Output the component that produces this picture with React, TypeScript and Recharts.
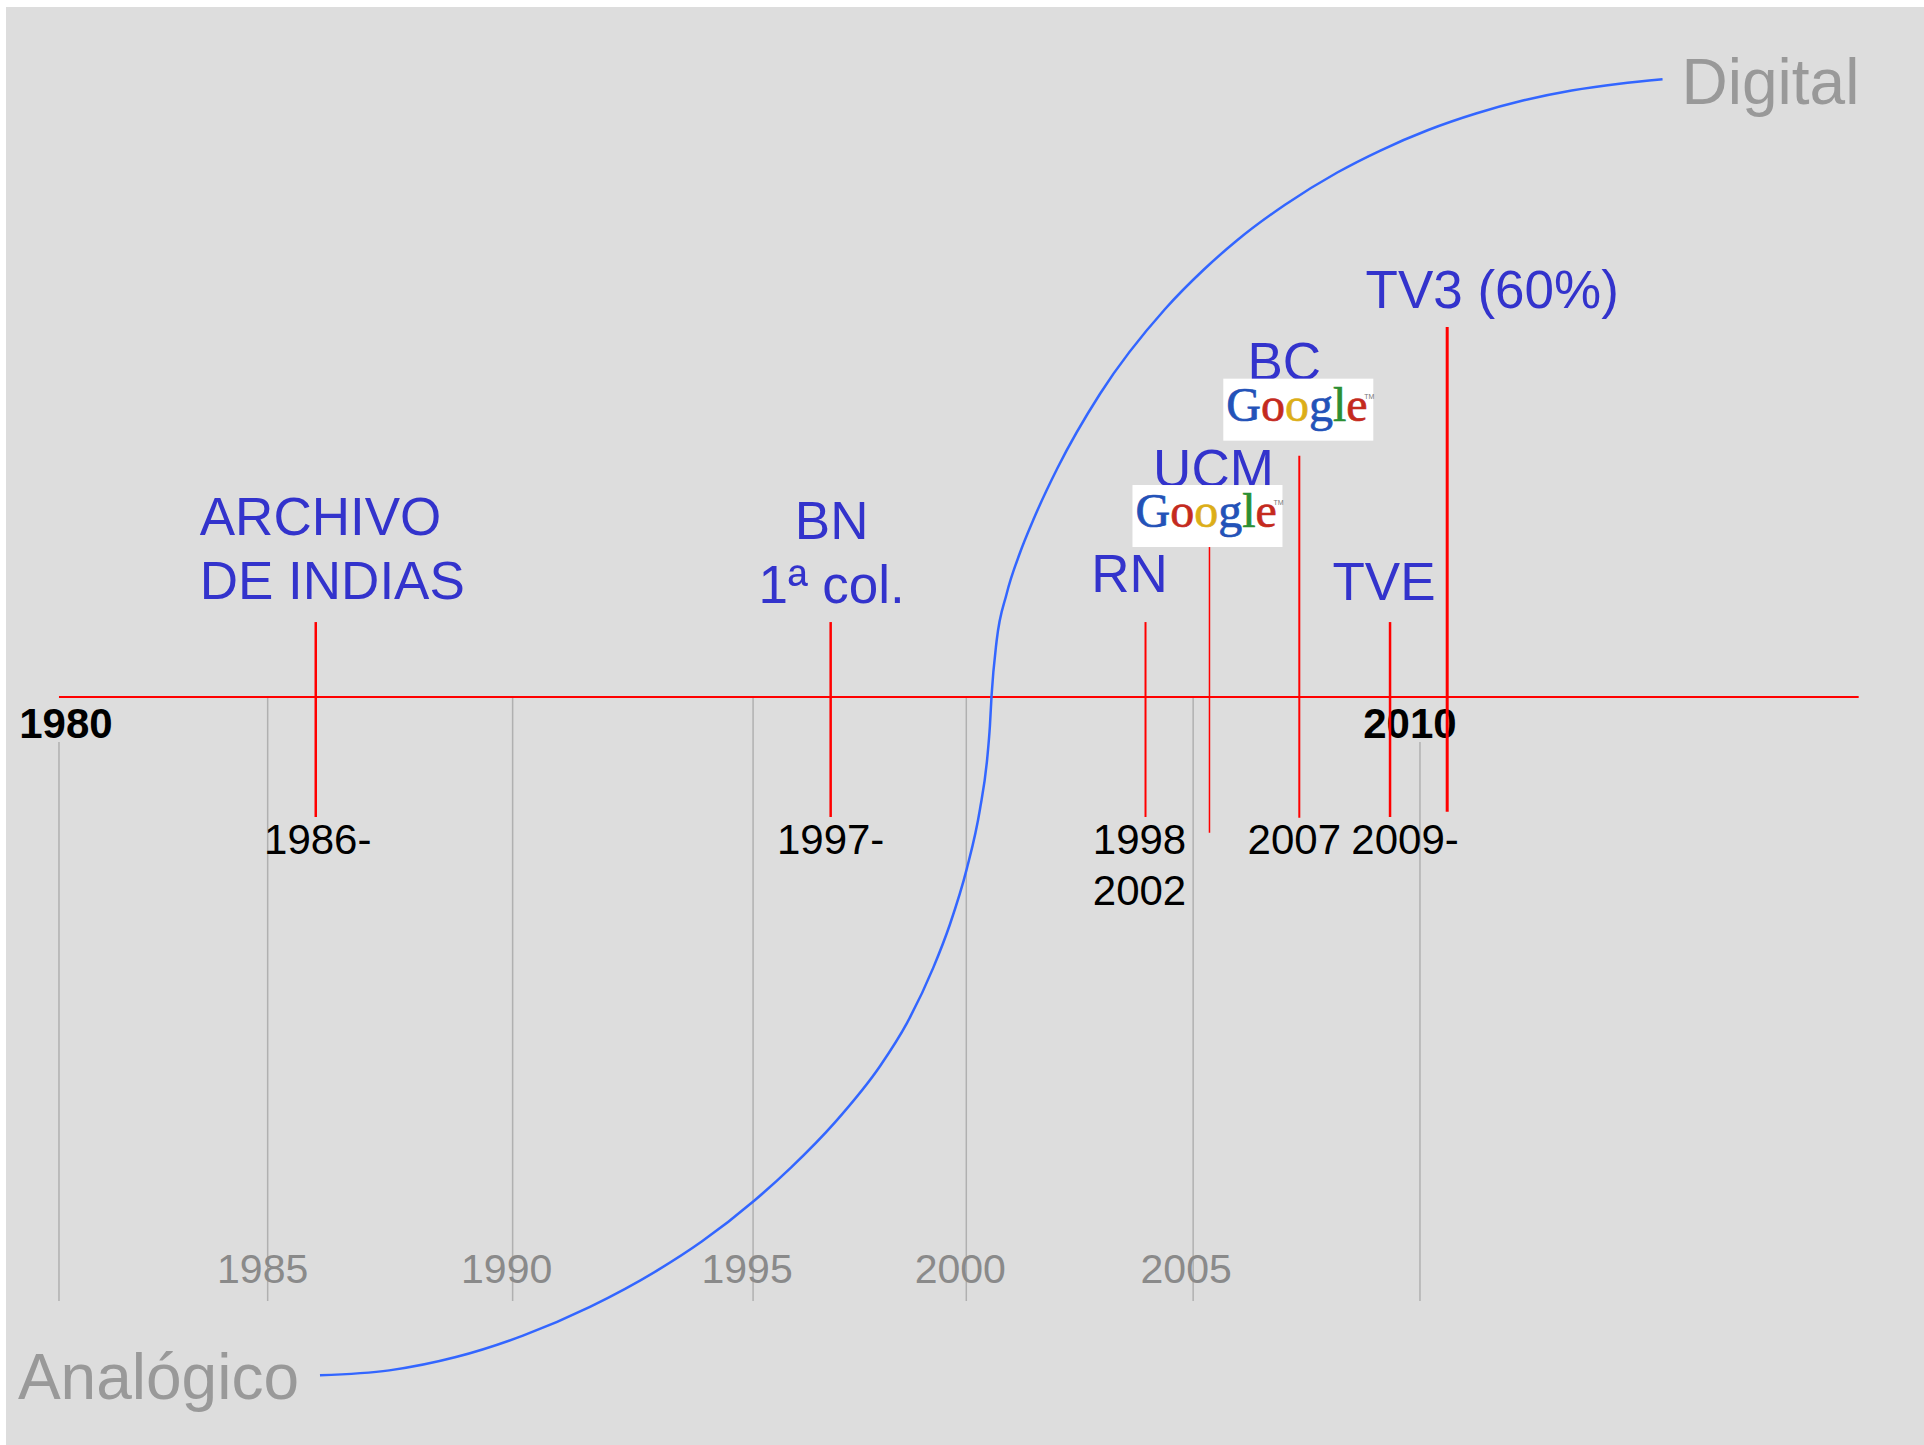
import React from "react";
import { ComposedChart, Line, XAxis, YAxis, ReferenceLine, ReferenceDot } from "recharts";

// S-curve: digitisation level (0 = analógico, 100 = digital) against year
const curveYears = [
  1985.753, 1987.28, 1988.75, 1990.227, 1991.704, 1993.181, 1994.168, 1995.33, 1996.134, 1997.119,
  1998.104, 1998.691, 1999.27, 1999.638, 2000.007, 2000.3, 2000.461, 2000.52, 2000.557, 2000.668,
  2000.888, 2001.181, 2001.475, 2002.01, 2002.945, 2004.382, 2005.226, 2005.964, 2007.018, 2008.177,
  2009.127, 2010.181, 2011.234, 2012.29, 2013.344, 2014.397, 2015.347,
];
const curveLevels = [
  0, 0.378, 1.404, 3.056, 5.278, 8.071, 10.316, 13.488, 16.026, 19.576,
  23.889, 27.176, 31.435, 34.784, 39.035, 43.657, 47.6, 50.1, 52.461, 56.659,
  60.285, 63.449, 65.995, 70.008, 75.718, 82.276, 85.285, 87.562, 90.301, 92.809,
  94.506, 96.088, 97.361, 98.38, 99.136, 99.66, 100,
];

// vertical year guides
const gridYears = [1980, 1984.6, 1990, 1995.3, 2000, 2005, 2010];
const gridLabels = ["1980", "1985", "1990", "1995", "2000", "2005", "2010"];
const gridBold = [true, false, false, false, false, false, true];

// milestones
const eventNames = ["ARCHIVO\nDE INDIAS", "BN\n1ª col.", "RN", "UCM", "BC", "TVE", "TV3 (60%)"];
const eventYears = [1985.66, 1997.01, 2003.95, 2005.36, 2007.34, 2009.34, 2010.6];
const eventTops = [58.12, 58.12, 58.12, 63.91, 70.96, 58.12, 80.89];
const eventBottoms = [43.08, 43.08, 43.08, 41.87, 43.02, 43.08, 43.49];
const eventDates = ["1986-", "1997-", "1998\n2002", "", "2007", "2009-", ""];
const eventGoogle = [false, false, false, true, true, false, false];

const AXIS_LEVEL = 52.34;
const AXIS_START = 1980;
const AXIS_END = 2019.67;
const GRID_BOTTOM = 5.73;
const GRID_MAJOR_TOP = 48.87;

const SANS = "'Liberation Sans', Arial, Helvetica, sans-serif";
const SERIF = "'Liberation Serif', 'Times New Roman', serif";
const BLUE = "#3333cc";

const curveData = curveYears.map((year, i) => ({ year, level: curveLevels[i] }));

// label placement relative to each milestone line (x, top, bottom)
const titleLayout = [
  { anchor: "start", dx: -116, dy: -87 },
  { anchor: "middle", dx: 1, dy: -83 },
  { anchor: "middle", dx: -16, dy: -30 },
  { anchor: "middle", dx: 4, dy: -60 },
  { anchor: "middle", dx: -15, dy: -76 },
  { anchor: "middle", dx: -6, dy: -22 },
  { anchor: "middle", dx: 45, dy: -19 },
];
const dateLayout = [
  { dx: 2, dy: 37 },
  { dx: 0, dy: 37 },
  { dx: -6, dy: 37 },
  { dx: 0, dy: 37 },
  { dx: -5, dy: 36 },
  { dx: 15, dy: 37 },
  { dx: 0, dy: 37 },
];
const logoLayout = [null, null, null, { dx: -77, dy: -62 }, { dx: -76, dy: -77 }, null, null];
const lineWidths = [2.5, 2.5, 2, 1.5, 2, 2.5, 3];
const gridLabelDx = [7, -5, -6, -6, -6, -7, -10];

const GoogleLogo = ({ x, y }: { x: number; y: number }) => {
  const letters = ["G", "o", "o", "g", "l", "e"];
  const colors = ["#2352b8", "#c42a1e", "#dcae18", "#2352b8", "#2b8f33", "#c42a1e"];
  return (
    <g>
      <rect x={x} y={y} width={150} height={62} fill="#ffffff" />
      <text x={x + 3} y={y + 42} fontFamily={SERIF} fontSize={48} strokeWidth={0.7}>
        {letters.map((l, i) => (
          <tspan key={i} fill={colors[i]} stroke={colors[i]}>
            {l}
          </tspan>
        ))}
      </text>
      <text x={x + 141} y={y + 20} fontFamily={SANS} fontSize={7} fill="#777">
        TM
      </text>
    </g>
  );
};

const makeEventLabel = (i: number) => (props: any) => {
  const vb = props.viewBox || {};
  const x = vb.x;
  const top = vb.y;
  const bottom = vb.y + vb.height;
  const t = titleLayout[i];
  const d = dateLayout[i];
  const logo = logoLayout[i];
  return (
    <g>
      {eventNames[i].split("\n").map((s, k) => (
        <text
          key={"t" + k}
          x={x + t.dx}
          y={top + t.dy + k * 64}
          textAnchor={t.anchor as any}
          fontFamily={SANS}
          fontSize={53}
          fill={BLUE}
        >
          {s}
        </text>
      ))}
      {eventGoogle[i] && logo && <GoogleLogo x={x + logo.dx} y={top + logo.dy} />}
      {eventDates[i] &&
        eventDates[i].split("\n").map((s, k) => (
          <text
            key={"d" + k}
            x={x + d.dx}
            y={bottom + d.dy + k * 51}
            textAnchor="middle"
            fontFamily={SANS}
            fontSize={42}
            fill="#000000"
          >
            {s}
          </text>
        ))}
    </g>
  );
};

const makeGridLabel = (i: number) => (props: any) => {
  const vb = props.viewBox || {};
  if (gridBold[i]) {
    return (
      <text
        x={vb.x + gridLabelDx[i]}
        y={vb.y - 4}
        textAnchor="middle"
        fontFamily={SANS}
        fontSize={42}
        fontWeight="bold"
        fill="#000000"
      >
        {gridLabels[i]}
      </text>
    );
  }
  return (
    <text
      x={vb.x + gridLabelDx[i]}
      y={vb.y + vb.height - 18}
      textAnchor="middle"
      fontFamily={SANS}
      fontSize={41}
      fill="#8a8a8a"
    >
      {gridLabels[i]}
    </text>
  );
};

const AnalogLabel = (props: any) => {
  const vb = props.viewBox || {};
  return (
    <text x={vb.x - 21} y={vb.y + 24} textAnchor="end" fontFamily={SANS} fontSize={64} fill="#999999">
      Analógico
    </text>
  );
};

const DigitalLabel = (props: any) => {
  const vb = props.viewBox || {};
  return (
    <text x={vb.x + 19} y={vb.y + 25} textAnchor="start" fontFamily={SANS} fontSize={64} fill="#999999">
      Digital
    </text>
  );
};

const App = () => {
  const last = curveData.length - 1;
  return (
    <div style={{ position: "relative", width: 1924, height: 1445, background: "#ffffff", overflow: "hidden" }}>
      <style>{"body{margin:0}"}</style>
      <div style={{ position: "absolute", left: 6, top: 7, width: 1918, height: 1438, background: "#dddddd" }} />
      <div style={{ position: "absolute", left: 0, top: 0 }}>
        <ComposedChart width={1924} height={1445} margin={{ top: 0, right: 0, bottom: 0, left: 0 }}>
          <XAxis type="number" dataKey="year" domain={[1978.7, 2021.11]} allowDataOverflow hide />
          <YAxis type="number" dataKey="level" domain={[-5.38, 106.12]} allowDataOverflow hide />

          {gridYears.map((g, i) => (
            <ReferenceLine
              key={"g" + i}
              segment={[
                { x: g, y: gridBold[i] ? GRID_MAJOR_TOP : AXIS_LEVEL },
                { x: g, y: GRID_BOTTOM },
              ]}
              stroke="#b0b0b0"
              strokeWidth={1.5}
              label={makeGridLabel(i)}
            />
          ))}

          <ReferenceLine
            segment={[
              { x: AXIS_START, y: AXIS_LEVEL },
              { x: AXIS_END, y: AXIS_LEVEL },
            ]}
            stroke="#ff0000"
            strokeWidth={2}
          />

          {eventYears.map((ev, i) => (
            <ReferenceLine
              key={"e" + i}
              segment={[
                { x: ev, y: eventTops[i] },
                { x: ev, y: eventBottoms[i] },
              ]}
              stroke="#ff0000"
              strokeWidth={lineWidths[i]}
              label={makeEventLabel(i)}
            />
          ))}

          <Line
            data={curveData}
            dataKey="level"
            type="monotone"
            stroke="#3366ff"
            strokeWidth={2.5}
            dot={false}
            activeDot={false}
            isAnimationActive={false}
          />

          <ReferenceDot
            x={curveData[0].year}
            y={curveData[0].level}
            r={0}
            fill="none"
            stroke="none"
            label={AnalogLabel}
          />
          <ReferenceDot
            x={curveData[last].year}
            y={curveData[last].level}
            r={0}
            fill="none"
            stroke="none"
            label={DigitalLabel}
          />
        </ComposedChart>
      </div>
    </div>
  );
};

export default App;
